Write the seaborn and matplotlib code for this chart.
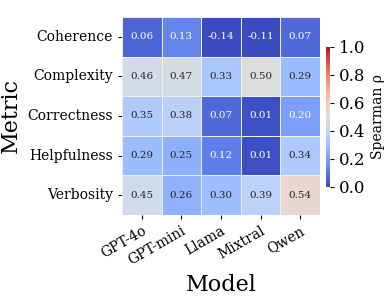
import numpy as np
import pandas as pd
import matplotlib
matplotlib.use("Agg")
import matplotlib.pyplot as plt
import seaborn as sns

# valores
modelos = ["GPT-4o", "GPT-mini", "Llama", "Mixtral", "Qwen"]
metricas = ["Coherence", "Complexity", "Correctness", "Helpfulness", "Verbosity"]
coherence = [0.06, 0.13, -0.14, -0.11, 0.07]
complexity = [0.46, 0.47, 0.33, 0.50, 0.29]
correctness = [0.35, 0.38, 0.07, 0.01, 0.20]
helpfulness = [0.29, 0.25, 0.12, 0.01, 0.34]
verbosity = [0.45, 0.26, 0.30, 0.39, 0.54]

df = pd.DataFrame([coherence, complexity, correctness, helpfulness, verbosity],
                  index=metricas, columns=modelos)

sns.set_style("white")
plt.rcParams["font.family"] = ["DejaVu Serif"]
plt.rcParams["text.color"] = "black"
plt.rcParams["axes.labelcolor"] = "black"
plt.rcParams["xtick.color"] = "black"
plt.rcParams["ytick.color"] = "black"

fig = plt.figure(figsize=(3.85, 3.08), dpi=100)
ax = fig.add_axes([0.317, 0.302, 0.514, 0.643])
cax = fig.add_axes([0.847, 0.393, 0.011, 0.455])

sns.heatmap(df, ax=ax, cbar_ax=cax, cmap="coolwarm", vmin=0, vmax=1,
            annot=True, fmt=".2f", annot_kws={"size": 7.5},
            linewidths=0.6, linecolor="#eeeeee")

ax.set_xlabel("Model", fontsize=16)
ax.set_ylabel("Metric", fontsize=16)
ax.tick_params(axis="both", labelsize=10, length=3, width=0.8, left=True, bottom=True)
plt.setp(ax.get_xticklabels(), rotation=30, ha="right", rotation_mode="anchor")
plt.setp(ax.get_yticklabels(), rotation=0)

cax.tick_params(labelsize=12, length=3, width=0.8, left=False, right=True)
cax.set_ylabel("Spearman ρ", fontsize=10)
cax.set_yticks([0, 0.2, 0.4, 0.6, 0.8, 1.0])

fig.savefig("out.png", dpi=100)
